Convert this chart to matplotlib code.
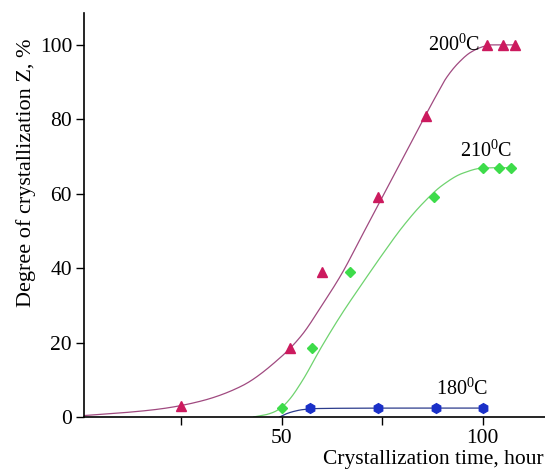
import numpy as np
import matplotlib
matplotlib.use('Agg')
import matplotlib.pyplot as plt

plt.rcParams['font.family'] = 'Liberation Serif'
plt.rcParams['mathtext.fontset'] = 'custom'
plt.rcParams['mathtext.rm'] = 'Liberation Serif'

# measured points, degree of crystallization (%) vs time (hours)
t200 = [25, 52, 60, 74, 86, 101, 105, 108]
z200 = [3, 18.5, 39, 59, 81, 100, 100, 100]
t210 = [50, 57.5, 67, 88, 100, 104, 107]
z210 = [2.5, 18.5, 39, 59, 67, 67, 67]
t180 = [57, 74, 88.5, 100]
z180 = [2.3, 2.3, 2.3, 2.3]

# knots of the fitted curves
fit200_t = [1, 10, 20, 30, 40, 50, 55, 60, 65, 70, 75, 80, 85, 88, 91, 94, 97, 100, 102, 108]
fit200_z = [0.4, 1.1, 2.2, 4.3, 8.3, 16.3, 22, 30, 38.6, 48.8, 59, 69.2, 79.5, 85.5, 91.2, 95.2, 98, 99.5, 100, 100]
fit210_t = [43, 46, 48, 50, 52, 55, 60, 65, 70, 75, 80, 85, 90, 95, 100, 104, 107]
fit210_z = [0, 0.6, 1.3, 2.6, 4.8, 9.5, 19, 27.8, 35.8, 43.6, 51, 57.3, 62.3, 65.5, 66.9, 67, 67]
fit180_t = [49.5, 51, 53, 55, 58, 65, 80, 100]
fit180_z = [0, 0.8, 1.5, 1.95, 2.25, 2.35, 2.4, 2.4]


def pchip(x, y, xs):
    # monotone cubic (Fritsch-Carlson)
    x = np.asarray(x, float)
    y = np.asarray(y, float)
    h = np.diff(x)
    d = np.diff(y) / h
    m = np.zeros_like(y)
    for i in range(1, len(x) - 1):
        if d[i - 1] * d[i] > 0:
            w1 = 2 * h[i] + h[i - 1]
            w2 = h[i] + 2 * h[i - 1]
            m[i] = (w1 + w2) / (w1 / d[i - 1] + w2 / d[i])
    m[0] = d[0]
    m[-1] = d[-1]
    idx = np.clip(np.searchsorted(x, xs) - 1, 0, len(x) - 2)
    hh = h[idx]
    s = (xs - x[idx]) / hh
    h00 = 2 * s**3 - 3 * s**2 + 1
    h10 = s**3 - 2 * s**2 + s
    h01 = -2 * s**3 + 3 * s**2
    h11 = s**3 - s**2
    return h00 * y[idx] + h10 * hh * m[idx] + h01 * y[idx + 1] + h11 * hh * m[idx + 1]


fig = plt.figure(figsize=(5.45, 4.72), dpi=100)
ax = fig.add_axes([0.154, 0.1165, 0.846, 0.857])

for ft, fz, col in [(fit200_t, fit200_z, '#a04a80'),
                    (fit210_t, fit210_z, '#6fd36f'),
                    (fit180_t, fit180_z, '#2c3c8c')]:
    xs = np.linspace(ft[0], ft[-1], 400)
    ax.plot(xs, pchip(ft, fz, xs), color=col, lw=0.9)

ax.plot(t200, z200, ls='none', marker='^', ms=7, color='#cc1a5e')
ax.plot(t210, z210, ls='none', marker='D', ms=5.5, color='#3ddc4a')
ax.plot(t180, z180, ls='none', marker='h', ms=7, color='#1a30c8')

ax.text(99.3, 98.3, r'200$^{0}$C', ha='right', va='baseline', fontsize=14.5)
ax.text(107.3, 69.8, r'210$^{0}$C', ha='right', va='baseline', fontsize=14.5)
ax.text(101.3, 6.0, r'180$^{0}$C', ha='right', va='baseline', fontsize=14.5)

ax.set_xlim(0.82, 115.5)
ax.set_ylim(0, 108.7)
ax.set_xticks([25, 50, 75, 100])
ax.set_xticklabels(['', '50', '', '100'])
ax.set_yticks([0, 20, 40, 60, 80, 100])
ax.tick_params(labelsize=15.5, length=6, width=1, direction='out', pad=2.5)
ax.spines['top'].set_visible(False)
ax.spines['right'].set_visible(False)
ax.spines['left'].set_linewidth(1.2)
ax.spines['bottom'].set_linewidth(1.2)

ax.set_ylabel('Degree of crystallization Z, %', fontsize=16)
ax.yaxis.set_label_coords(-0.104, 0.604)
ax.set_xlabel('Crystallization time, hour', fontsize=15.5)
ax.xaxis.set_label_coords(0.998, -0.082)
ax.xaxis.label.set_ha('right')

fig.savefig('out.png', dpi=100)
